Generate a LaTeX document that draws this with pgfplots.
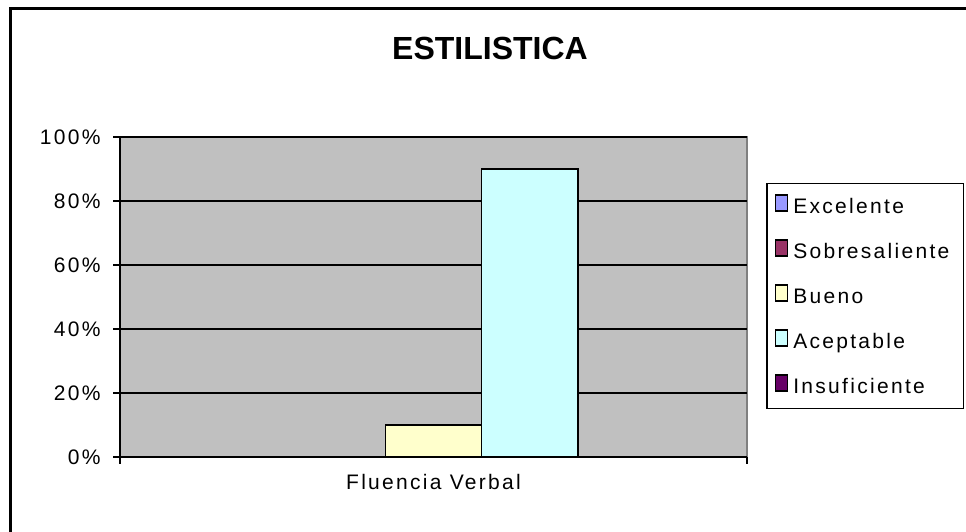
\documentclass[border=0pt]{standalone}
\usepackage{fontspec}
\setmainfont{Liberation Sans}[LetterSpace=11]
\newfontfamily\titlefont{Liberation Sans}
\usepackage{pgfplots}
\pgfplotsset{compat=1.18}

\definecolor{plotgray}{HTML}{C0C0C0}
\definecolor{excelente}{HTML}{9999FF}
\definecolor{sobres}{HTML}{993366}
\definecolor{bueno}{HTML}{FFFFCC}
\definecolor{aceptable}{HTML}{CCFFFF}
\definecolor{insuf}{HTML}{660066}

\pgfplotsset{
  legsq/.style={legend image code/.code={
      \draw[##1, draw=black, line width=1.5pt] (0pt,-5pt) rectangle (12pt,11pt);}},
}

\begin{document}
\begin{tikzpicture}
\useasboundingbox (0pt,0pt) rectangle (966pt,532pt);
% outer chart frame (only left and top edges are visible)
\draw[line width=2.5pt] (10.5pt,-10pt) -- (10.5pt,523.5pt) -- (980pt,523.5pt);
\node[font=\titlefont\fontsize{32}{36}\selectfont\bfseries] at (490pt,484pt) {ESTILISTICA};

\begin{axis}[
  at={(120pt,75pt)}, anchor=south west,
  width=627pt, height=320pt, scale only axis,
  font=\fontsize{21}{25}\selectfont,
  axis background/.style={fill=plotgray, draw=gray, line width=2pt},
  axis lines*=left,
  axis line style={black, line width=1.5pt},
  ybar=0pt, bar width=96.2pt,
  xmin=-0.5, xmax=0.5, ymin=0, ymax=100,
  ytick={0,20,...,100},
  yticklabel={\pgfmathprintnumber{\tick}\%},
  /pgf/number format/assume math mode=true,
  yticklabel style={xshift=-9pt},
  ymajorgrids, grid style={black, line width=1.5pt},
  xtick={-0.5,0.5}, xticklabels={},
  extra x ticks={0}, extra x tick labels={Fluencia Verbal},
  extra x tick style={major tick length=0pt, grid=none,
    tick label style={yshift=-14pt}},
  tick align=outside, major tick length=7pt,
  tick style={black, line width=1.5pt},
  legend cell align=left,
  legend style={at={(1,1)}, anchor=north west, xshift=19pt, yshift=-46pt,
    draw=black, line width=1.5pt, fill=white,
    inner xsep=8pt, inner ysep=0pt, row sep=0pt, column sep=5pt,
    nodes={text height=30pt, text depth=15pt, inner sep=0pt}},
]
\addplot[legsq, fill=excelente, draw=black, line width=1.5pt] coordinates {(0,0)};
\addlegendentry{\makebox[162pt][l]{Excelente}}
\addplot[legsq, fill=sobres, draw=black, line width=1.5pt] coordinates {(0,0)};
\addlegendentry{\makebox[162pt][l]{Sobresaliente}}
\addplot[legsq, fill=bueno, draw=black, line width=1.5pt] coordinates {(0,10)};
\addlegendentry{\makebox[162pt][l]{Bueno}}
\addplot[legsq, fill=aceptable, draw=black, line width=1.5pt] coordinates {(0,90)};
\addlegendentry{\makebox[162pt][l]{Aceptable}}
\addplot[legsq, fill=insuf, draw=black, line width=1.5pt] coordinates {(0,0)};
\addlegendentry{\makebox[162pt][l]{Insuficiente}}
\end{axis}
\end{tikzpicture}
\end{document}
